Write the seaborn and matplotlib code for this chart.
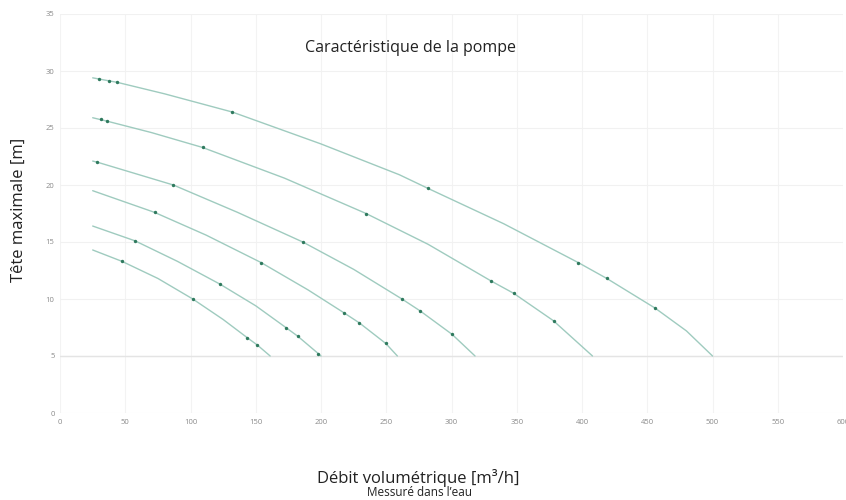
"""
Caractéristique de la pompe - courbes débit / hauteur
"""

import matplotlib

matplotlib.use("Agg")

import matplotlib.pyplot as plt

import seaborn as sns

import pandas as pd

# Courbes (lignes)
curve_names = ["C1", "C2", "C3", "C4", "C5", "C6"]

line_q = [
    [25, 44, 80, 132, 200, 260, 282, 340, 397, 419, 456, 480, 500],
    [25, 36, 70, 109, 172, 234.5, 282, 330, 347.6, 378, 408],
    [25, 28.6, 86.8, 136, 186, 225, 262, 276, 300.4, 318],
    [25, 72.4, 112, 154, 190, 217.4, 229.4, 249.6, 258.5],
    [25, 57.5, 90, 122.6, 150, 173, 182, 198, 200],
    [25, 47.5, 75, 101.7, 125, 143.5, 151.2, 161],
]

line_h = [
    [29.4, 29.0, 28.0, 26.4, 23.6, 20.9, 19.7, 16.6, 13.2, 11.8, 9.2, 7.2, 5.0],
    [25.9, 25.6, 24.6, 23.3, 20.6, 17.5, 14.8, 11.6, 10.5, 8.1, 5.0],
    [22.1, 22.0, 20.0, 17.6, 15.0, 12.6, 10.0, 8.95, 6.9, 5.0],
    [19.5, 17.6, 15.6, 13.2, 10.8, 8.8, 7.9, 6.1, 5.0],
    [16.4, 15.1, 13.3, 11.3, 9.4, 7.5, 6.75, 5.2, 5.0],
    [14.3, 13.3, 11.8, 10.0, 8.2, 6.6, 5.96, 5.0],
]

# Points mesurés (marqueurs)
point_q = [
    [30, 37.8, 43.9, 132, 282, 397, 419, 456],
    [31.2, 36.3, 109.3, 234.5, 330, 347.6, 378.3],
    [28.6, 86.8, 186, 262, 276, 300.4],
    [72.4, 154, 217.4, 229.4, 249.6],
    [57.5, 122.6, 173, 182, 198],
    [47.5, 101.7, 143.5, 151.2],
]

point_h = [
    [29.3, 29.15, 29.0, 26.4, 19.7, 13.2, 11.8, 9.2],
    [25.8, 25.6, 23.3, 17.5, 11.6, 10.5, 8.1],
    [22.0, 20.0, 15.0, 10.0, 8.95, 6.9],
    [17.6, 13.2, 8.8, 7.9, 6.1],
    [15.1, 11.3, 7.5, 6.75, 5.2],
    [13.3, 10.0, 6.6, 5.96],
]

x_ticks = [0, 50, 100, 150, 200, 250, 300, 350, 400, 450, 500, 550, 600]
y_ticks = [0, 5, 10, 15, 20, 25, 30, 35]

# DataFrame banaune
line_df = pd.DataFrame({
    "courbe": [n for n, q in zip(curve_names, line_q) for _ in q],
    "debit": [v for q in line_q for v in q],
    "hauteur": [v for h in line_h for v in h],
})

point_df = pd.DataFrame({
    "courbe": [n for n, q in zip(curve_names, point_q) for _ in q],
    "debit": [v for q in point_q for v in q],
    "hauteur": [v for h in point_h for v in h],
})

sns.set_style("white")
plt.rcParams["font.family"] = ["Open Sans", "DejaVu Sans"]

fig = plt.figure(figsize=(8.46, 5.0), dpi=100)
ax = fig.add_axes([0.071, 0.174, 0.9255, 0.798])

# Grille tres claire
for xv in x_ticks:
    ax.axvline(xv, color="#f3f3f3", linewidth=0.8, zorder=0)
for yv in y_ticks:
    ax.axhline(yv, color="#f1f1f1", linewidth=0.8, zorder=0)
ax.axhline(5, color="#e4e4e4", linewidth=1.0, zorder=0)

sns.lineplot(
    data=line_df,
    x="debit",
    y="hauteur",
    units="courbe",
    estimator=None,
    sort=False,
    color="#9fcbbf",
    linewidth=1.0,
    ax=ax
)

sns.scatterplot(
    data=point_df,
    x="debit",
    y="hauteur",
    color="#2f7a5e",
    s=6,
    linewidth=0,
    zorder=3,
    ax=ax
)

ax.set_xlim(0, 600)
ax.set_ylim(0, 35)
ax.set_xticks(x_ticks)
ax.set_yticks(y_ticks)
ax.tick_params(labelsize=5.5, colors="#8a8a8a", length=0, pad=4)
for s in ax.spines.values():
    s.set_visible(False)

ax.set_xlabel("")
ax.set_ylabel("")

fig.text(0.485, 0.904, "Caractéristique de la pompe",
         ha="center", va="center", fontsize=11.5, color="#222222")

fig.text(0.022, 0.58, "Tête maximale [m]", rotation=90,
         ha="center", va="center", fontsize=12, color="#222222")

fig.text(0.494, 0.044, "Débit volumétrique [m³/h]",
         ha="center", va="center", fontsize=12, color="#222222")

fig.text(0.496, 0.016, "Messuré dans l’eau",
         ha="center", va="center", fontsize=8.5, color="#222222")

plt.savefig("out.png", dpi=100)

plt.close()
